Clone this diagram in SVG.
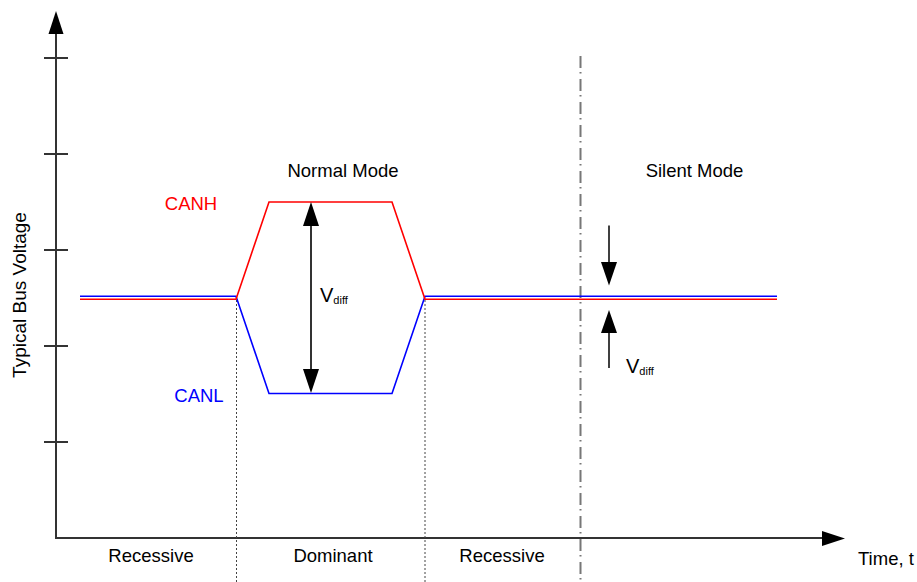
<svg xmlns="http://www.w3.org/2000/svg" width="917" height="582" viewBox="0 0 917 582">
<style>
text{font-family:"Liberation Sans",Arial,sans-serif;font-size:18.5px;fill:#000}
.axis{stroke:#333;stroke-width:2;fill:none}
.head{fill:#000;stroke:none}
.canh{stroke:#ff0000;stroke-width:1.6;fill:none}
.canl{stroke:#0000ff;stroke-width:1.6;fill:none}
.dot{stroke:#444;stroke-width:1;stroke-dasharray:2 2;fill:none}
.dashdot{stroke:#777;stroke-width:2;stroke-dasharray:12 4 1.5 5.5;fill:none}
.arr{stroke:#000;stroke-width:1.5;fill:none}
.vd{stroke:#333;stroke-width:2;fill:none}
.sub{font-size:11px}
</style>
<rect width="917" height="582" fill="#fff"/>
<g id="axes">
<line class="axis" x1="56" y1="539" x2="56" y2="32"/>
<polygon class="head" points="56,11 48.5,34 63.5,34"/>
<path class="axis" d="M44 58H68M44 154H68M44 250H68M44 346H68M44 442H68"/>
<line class="axis" x1="55" y1="538" x2="824" y2="538"/>
<polygon class="head" points="845,538.5 822,531 822,546"/>
<text transform="translate(26,295) rotate(-90)" text-anchor="middle" style="font-size:19px">Typical Bus Voltage</text>
<text x="858" y="565">Time, t</text>
</g>
<g id="separators">
<line class="dot" x1="236.5" y1="300" x2="236.5" y2="582"/>
<line class="dot" x1="425" y1="300" x2="425" y2="582"/>
<line class="dashdot" x1="580.5" y1="56" x2="580.5" y2="582"/>
</g>
<g id="signals">
<polyline class="canl" points="80,296.3 236,296.3 269,393.5 392,393.5 425,296.3 777,296.3"/>
<polyline class="canh" points="80,299.3 236,299.3 269,202 392,202 425,299.3 777,299.3"/>
<text x="191" y="210" text-anchor="middle" style="fill:#ff0000">CANH</text>
<text x="199" y="401.7" text-anchor="middle" style="fill:#0000ff">CANL</text>
</g>
<g id="vdiff-normal">
<line class="vd" x1="311" y1="224" x2="311" y2="372"/>
<polygon class="head" points="311,202 303,226 319,226"/>
<polygon class="head" points="311,393 303,369 319,369"/>
<text x="320" y="302" style="font-size:20px">V<tspan class="sub" dy="1.5">diff</tspan></text>
</g>
<g id="vdiff-silent">
<line class="arr" x1="609" y1="225.5" x2="609" y2="264"/>
<polygon class="head" points="609,285.5 601,262 617,262"/>
<line class="arr" x1="609" y1="331" x2="609" y2="368"/>
<polygon class="head" points="609,310 601,333 617,333"/>
<text x="626" y="373" style="font-size:20px">V<tspan class="sub" dy="1.5">diff</tspan></text>
</g>
<g id="labels">
<text x="343" y="177" text-anchor="middle">Normal Mode</text>
<text x="694.5" y="177" text-anchor="middle">Silent Mode</text>
<text x="151" y="562" text-anchor="middle">Recessive</text>
<text x="333" y="562" text-anchor="middle">Dominant</text>
<text x="502" y="562" text-anchor="middle">Recessive</text>
</g>
</svg>
